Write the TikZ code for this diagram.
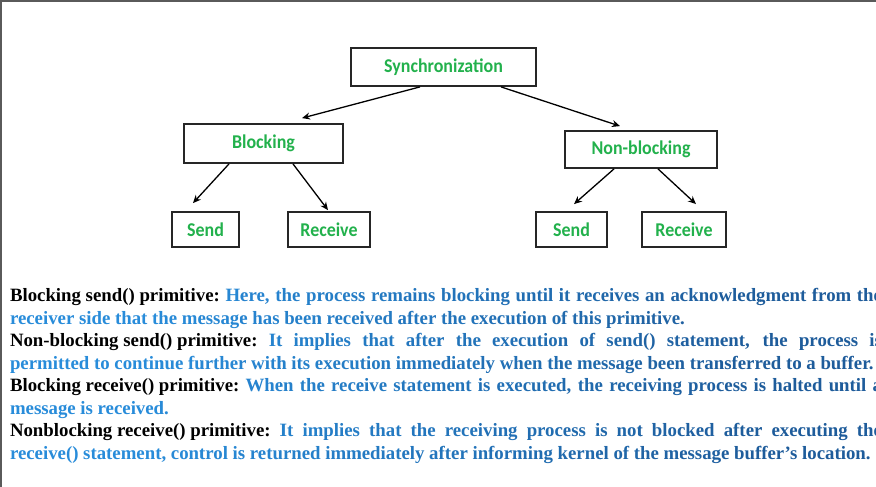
\documentclass[tikz,border=0pt]{standalone}
\usepackage{fontspec}
\setmainfont{Liberation Serif}
\newfontfamily\boxfont[FakeStretch=0.92]{Carlito}
\usetikzlibrary{arrows.meta,calc}
\definecolor{framegray}{RGB}{90,90,90}
\definecolor{boxgreen}{RGB}{34,177,76}
\definecolor{blueL}{RGB}{40,140,218}
\definecolor{blueD}{RGB}{30,92,155}
\newcommand{\jl}[2]{\hbox to 872pt{\phantom{#1} #2}}
\tikzset{
  box/.style={draw=black!85, line width=1.8pt, fill=white, inner sep=0pt,
    font=\boxfont\bfseries\fontsize{19.5}{21}\selectfont, text=boxgreen},
  arr/.style={-{Stealth[length=8pt,width=7pt]}, line width=1.3pt, black},
  txt/.style={anchor=base west, inner sep=0pt, outer sep=0pt,
    font=\fontsize{18.8}{22.5}\selectfont\bfseries},
}
\begin{document}
\begin{tikzpicture}[x=1pt,y=-1pt]
\useasboundingbox (0,0) rectangle (876,487);
\clip (0,0) rectangle (876,487);
\fill[white] (0,0) rectangle (876,487);
\draw[framegray, line width=1.6pt] (0.8,487) -- (0.8,0.8) -- (876,0.8);

% tree
\node[box, minimum width=185pt, minimum height=38pt] (sync) at (443.5,67) {Synchronization};
\node[box, minimum width=159pt, minimum height=39pt] (blk) at (263.5,143.5) {Blocking};
\node[box, minimum width=152pt, minimum height=37pt] (nblk) at (641,149.5) {Non-blocking};
\node[box, minimum width=67pt, minimum height=35pt] (sendL) at (205.5,229.5) {Send};
\node[box, minimum width=82pt, minimum height=35pt] (recvL) at (329,229.5) {Receive};
\node[box, minimum width=71pt, minimum height=35pt] (sendR) at (571.5,229.5) {Send};
\node[box, minimum width=84pt, minimum height=35pt] (recvR) at (684,229.5) {Receive};

\draw[arr] ($(sync.south)+(-23.5,0)$) -- ($(blk.north)+(38.5,-5)$);
\draw[arr] ($(sync.south)+(57.5,0)$) -- ($(nblk.north)+(-21,-4)$);
\draw[arr] ($(blk.south)+(-34.5,0)$) -- ($(sendL.north)+(-12.5,-8)$);
\draw[arr] ($(blk.south)+(29.5,0)$) -- ($(recvL.north)+(-1,-1)$);
\draw[arr] ($(nblk.south)+(-27,0)$) -- ($(sendR.north)+(2.5,-7)$);
\draw[arr] ($(nblk.south)+(17,0)$) -- ($(recvR.north)+(12,-7)$);

% black labels
\node[txt] (l1) at (10,301.5) {Blocking send() primitive:};
\node[txt] (l3) at (10,346.5) {Non-blocking send() primitive:};
\node[txt] (l5) at (10,391.5) {Blocking receive() primitive:};
\node[txt] (l7) at (10,436.5) {Nonblocking receive() primitive:};

% blue text, drawn in vertical bands for the colour gradient
\foreach \k in {0,...,21}{
  \pgfmathsetmacro\xa{\k*40}
  \pgfmathtruncatemacro\pct{min(100,max(0,(\xa+20-150)/6))}
  \colorlet{bandcol}{blueD!\pct!blueL}
  \begin{scope}
    \clip (\xa,280) rectangle (\xa+40,475);
    \node[txt,text=bandcol] (b\k-1) at (10,301.5) {\jl{Blocking send() primitive:}{Here, the process remains blocking until it receives an acknowledgment from the}};
    \node[txt,text=bandcol] (b\k-2) at (10,324) {receiver side that the message has been received after the execution of this primitive.};
    \node[txt,text=bandcol] (b\k-3) at (10,346.5) {\jl{Non-blocking send() primitive:}{It implies that after the execution of send() statement, the process is}};
    \node[txt,text=bandcol] (b\k-4) at (10,369) {permitted to continue further with its execution immediately when the message been transferred to a buffer.};
    \node[txt,text=bandcol] (b\k-5) at (10,391.5) {\jl{Blocking receive() primitive:}{When the receive statement is executed, the receiving process is halted until a}};
    \node[txt,text=bandcol] (b\k-6) at (10,414) {message is received.};
    \node[txt,text=bandcol] (b\k-7) at (10,436.5) {\jl{Nonblocking receive() primitive:}{It implies that the receiving process is not blocked after executing the}};
    \node[txt,text=bandcol] (b\k-8) at (10,459) {receive() statement, control is returned immediately after informing kernel of the message buffer’s location.};
  \end{scope}
}
\end{tikzpicture}
\end{document}
